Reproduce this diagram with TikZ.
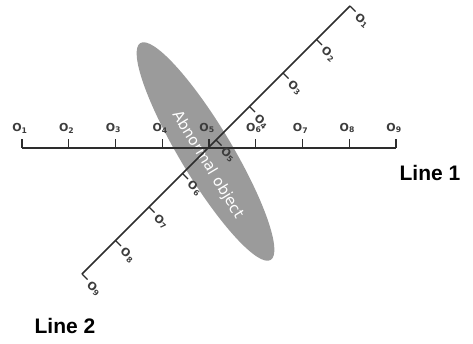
\documentclass[tikz,border=0pt]{standalone}
\usepackage{fontspec}
\setsansfont{DejaVu Sans}
\newfontfamily\boldsans{Liberation Sans}
\usetikzlibrary{shapes.geometric, calc}
\definecolor{linegray}{RGB}{45,45,45}
\definecolor{labelgray}{RGB}{60,60,60}
\definecolor{objgray}{RGB}{155,155,155}

\begin{document}
\begin{tikzpicture}[x=1pt, y=1pt,
    axis/.style={draw=linegray, line width=1.6pt},
    tick/.style={draw=linegray, line width=1.3pt},
    olabel/.style={font=\sffamily\bfseries\fontsize{11}{11}\selectfont,
                   text=labelgray, inner sep=0pt},
    object/.style={ellipse, fill=objgray, minimum width=253pt,
                   minimum height=52pt, rotate=-59},
    objtext/.style={font=\sffamily\fontsize{15}{15}\selectfont,
                    text=white, rotate=-59},
    linename/.style={font=\boldsans\bfseries\fontsize{21}{21}\selectfont}
  ]
    \useasboundingbox (0,0) rectangle (473,343);

    % abnormal object under both lines
    \node[object] (obj) at (205.5,191.5) {};
    \node[objtext] (objlbl) at (208,178) {Abnormal object};

    % Line 1 (horizontal)
    \foreach \i in {1,...,9} {
      \coordinate (a\i) at ({22+(\i-1)*46.75},195);
    }
    \draw[axis] (a1) -- (a9);
    \foreach \i in {1,...,9} {
      \draw[tick] (a\i) -- ++(0,9);
      \node[olabel] (la\i) at ($(a\i)+(-2,20)$) {O\textsubscript{\i}};
    }

    % Line 2 (diagonal)
    \foreach \i in {1,...,9} {
      \coordinate (b\i) at ({216+(5-\i)*33.5},{203+(5-\i)*33.5});
    }
    \draw[axis] (b1) -- (b9);
    \foreach \i in {1,...,9} {
      \draw[tick] (b\i) -- ++(5.5,-5.5);
      \node[olabel, rotate=-40] (lb\i) at ($(b\i)+(12,-15)$) {O\textsubscript{\i}};
    }

    \node[linename] (line1) at (430,170) {Line 1};
    \node[linename] (line2) at (65,17) {Line 2};
\end{tikzpicture}
\end{document}
